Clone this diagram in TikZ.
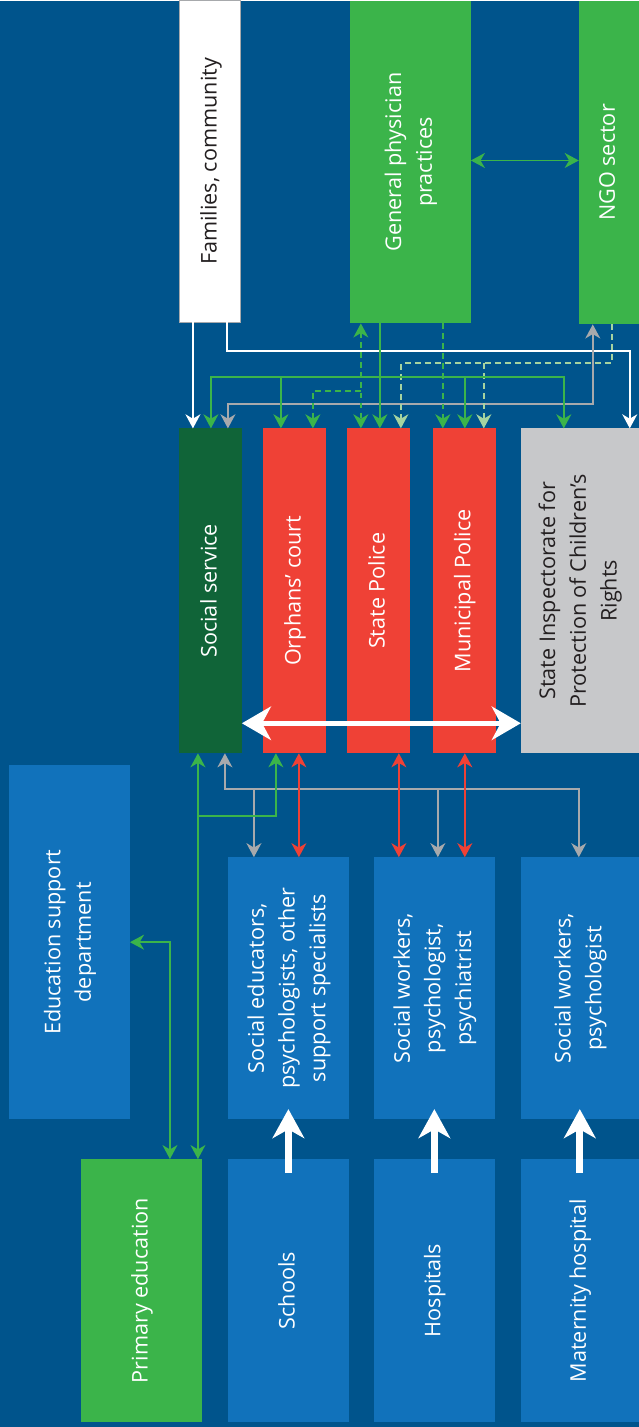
\documentclass[tikz,border=0pt]{standalone}
\usepackage{fontspec}
\setmainfont{Open Sans}
\usetikzlibrary{arrows.meta}

\definecolor{bgblue}{RGB}{0,84,140}
\definecolor{boxblue}{RGB}{17,114,187}
\definecolor{ngreen}{RGB}{59,180,74}
\definecolor{dgreen}{RGB}{16,100,56}
\definecolor{nred}{RGB}{239,65,54}
\definecolor{lgray}{RGB}{199,200,202}
\definecolor{lngray}{RGB}{167,169,172}
\definecolor{pgreen}{RGB}{166,212,160}
\definecolor{txtdark}{RGB}{35,31,32}

\newcommand{\vtext}[1]{\rotatebox{90}{\begin{tabular}{@{}c@{}}#1\end{tabular}}}

\begin{document}
\begin{tikzpicture}[x=0.02cm, y=-0.02cm,
  box/.style={rectangle, inner sep=0pt, outer sep=0pt, text=white,
    font=\fontsize{12.3}{17.5}\selectfont},
  dims/.style 2 args={minimum width=#1*0.02cm, minimum height=#2*0.02cm},
  arr/.style={line width=1.1pt, >={Stealth[length=8pt, width=8.5pt, inset=2.5pt]}},
  garr/.style={arr, draw=ngreen, ->},
  gdash/.style={garr, dash pattern=on 3.4pt off 2.3pt},
  pdash/.style={arr, ->, draw=pgreen, dash pattern=on 3.4pt off 2.3pt},
  grarr/.style={arr, draw=lngray, ->},
  rarr/.style={arr, draw=nred, <->},
  warr/.style={arr, draw=white, ->},
  bigarr/.style={draw=white, line width=4pt, ->, >={Stealth[length=16.5pt, width=18pt, inset=5pt]}},
  widearr/.style={draw=white, line width=2.8pt, <->, >={Stealth[length=16.5pt, width=19pt, inset=5pt]}},
]

% background
\fill[bgblue] (0,0) rectangle (639,1427);

% ============================================================
% TOP ROW
% ============================================================
\node[box, fill=white, draw=lngray, line width=0.6pt, text=txtdark, dims={61}{322}] (fam) at (210.5,161) {\vtext{Families, community}};
\node[box, fill=ngreen, dims={121}{323}] (gp) at (410.5,161.5) {\vtext{General physician\\practices}};
\node[box, fill=ngreen, dims={60}{324}] (ngo) at (609,162) {\vtext{NGO sector}};

% ============================================================
% MIDDLE ROW
% ============================================================
\node[box, fill=dgreen, dims={63}{325}] (soc) at (210.5,590.5) {\vtext{Social service}};
\node[box, fill=nred, dims={63}{325}] (orph) at (294.5,590.5) {\vtext{Orphans’ court}};
\node[box, fill=nred, dims={63}{325}] (spol) at (378.5,590.5) {\vtext{State Police}};
\node[box, fill=nred, dims={63}{325}] (mpol) at (464.5,590.5) {\vtext{Municipal Police}};
\node[box, fill=lgray, text=txtdark, dims={118}{325}] (insp) at (580,590.5) {\vtext{State Inspectorate for\\Protection of Children’s\\Rights}};

% ============================================================
% SPECIALISTS
% ============================================================
\node[box, fill=boxblue, dims={121}{354}] (edu) at (69.5,942) {\vtext{Education support\\department}};
\node[box, fill=boxblue, dims={121}{262}] (spec1) at (288.5,988) {\vtext{Social educators,\\psychologists, other\\support specialists}};
\node[box, fill=boxblue, dims={121}{262}] (spec2) at (434.5,988) {\vtext{Social workers,\\psychologist,\\psychiatrist}};
\node[box, fill=boxblue, dims={118}{262}] (spec3) at (580,988) {\vtext{Social workers,\\psychologist}};

% ============================================================
% INSTITUTIONS
% ============================================================
\node[box, fill=ngreen, dims={121}{263}] (prim) at (141.5,1290.5) {\vtext{Primary education}};
\node[box, fill=boxblue, dims={121}{263}] (schools) at (288.5,1290.5) {\vtext{Schools}};
\node[box, fill=boxblue, dims={121}{263}] (hosp) at (434.5,1290.5) {\vtext{Hospitals}};
\node[box, fill=boxblue, dims={118}{263}] (mat) at (580,1290.5) {\vtext{Maternity hospital}};

% junctions
\coordinate (gpj) at (380,377);
\coordinate (ngoj) at (484,363);
\coordinate (grj1) at (254,789);
\coordinate (grj2) at (438,789);
\coordinate (primj) at (198,816);

% ============================================================
% Connectors, top
% ============================================================
\draw[garr, <->] (gp.east |- 0,160) -- (ngo.west |- 0,160);
\draw[warr] (fam.south -| 193,0) -- (soc.north -| 193,0);
\draw[warr] (fam.south -| 227,0) |- (630,351) -- (insp.north -| 630,0);
\draw[grarr, <->] (ngo.south -| 593,0) |- (228,404) -- (soc.north -| 228,0);
\draw[pdash] (ngo.south -| 612,0) |- (401,363) -- (spol.north -| 401,0);
\draw[pdash] (ngoj) -- (mpol.north -| ngoj);
\draw[gdash, <->] (gp.south -| 361,0) -- (spol.north -| 361,0);
\draw[gdash] (361,391) -| (orph.north -| 313,0);
\draw[gdash] (gp.south -| 443,0) -- (mpol.north -| 443,0);
\draw[garr] (gp.south -| gpj) -- (spol.north -| gpj);
\draw[garr] (gpj) -| (soc.north -| 211,0);
\draw[garr] (gpj) -| (orph.north -| 281,0);
\draw[garr] (gpj) -| (mpol.north -| 465,0);
\draw[garr] (gpj) -| (insp.north -| 564,0);

% white exchange arrow
\draw[widearr] (soc.east |- 0,723) -- (insp.west |- 0,723);

% ============================================================
% Connectors, bottom
% ============================================================
\draw[grarr, <->] (soc.south -| 225,0) |- (579,789) -- (spec3.north -| 579,0);
\draw[grarr] (grj1) -- (spec1.north -| grj1);
\draw[grarr] (grj2) -- (spec2.north -| grj2);
\draw[rarr] (orph.south -| 299,0) -- (spec1.north -| 299,0);
\draw[rarr] (spol.south -| 399,0) -- (spec2.north -| 399,0);
\draw[rarr] (mpol.south -| 465,0) -- (spec2.north -| 465,0);
\draw[garr, <->] (soc.south -| primj) -- (prim.north -| primj);
\draw[garr] (primj) -| (orph.south -| 276,0);
\draw[garr, <->] (edu.east |- 0,942) -| (prim.north -| 170,0);

% institutions to specialists
\draw[bigarr] ([yshift=-0.28cm]schools.north) -- ([yshift=0.2cm]spec1.south);
\draw[bigarr] ([yshift=-0.28cm]hosp.north) -- ([yshift=0.2cm]spec2.south);
\draw[bigarr] ([yshift=-0.28cm]mat.north) -- ([yshift=0.2cm]spec3.south);

\end{tikzpicture}
\end{document}
